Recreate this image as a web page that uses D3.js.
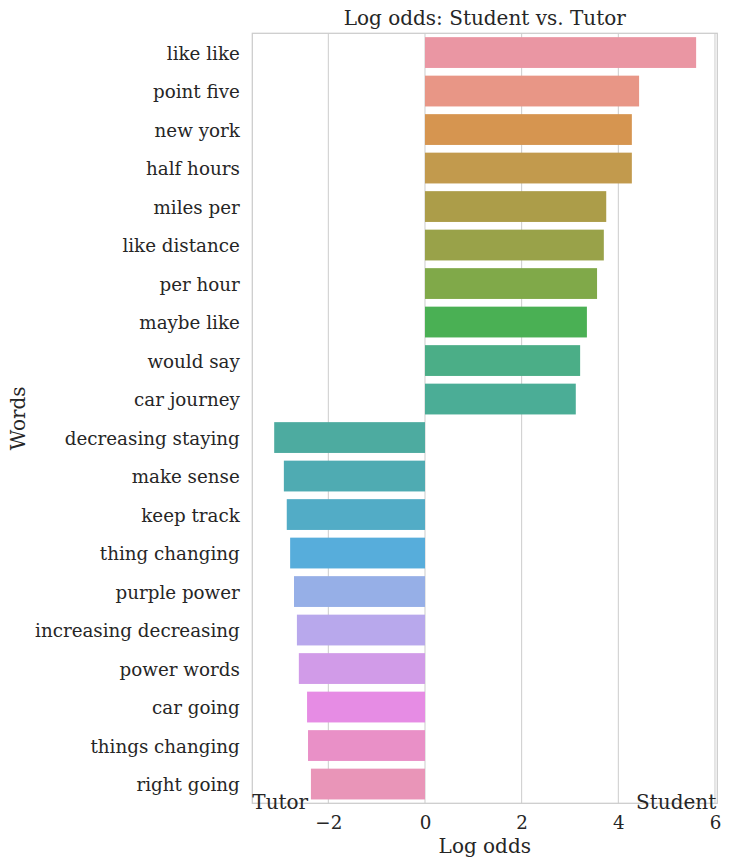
<!DOCTYPE html>
<html><head><meta charset="utf-8">
<script src="https://cdn.jsdelivr.net/npm/d3@7"></script>
<style>body{margin:0;background:#fff;} text{font-family:"DejaVu Serif",serif;fill:#262626;}</style>
</head><body><svg id="c" width="730" height="867"></svg>
<script>
const words = ["like like","point five","new york","half hours","miles per","like distance","per hour","maybe like","would say","car journey","decreasing staying","make sense","keep track","thing changing","purple power","increasing decreasing","power words","car going","things changing","right going"];
const logOdds = [5.61,4.43,4.28,4.28,3.75,3.70,3.56,3.35,3.21,3.12,-3.12,-2.92,-2.86,-2.79,-2.71,-2.65,-2.61,-2.44,-2.42,-2.36];
const colors = ["#EA96A3","#E89686","#D69550","#C29A4D","#AC9D49","#99A249","#80A949","#4AB054","#4BAE87","#4BAD96","#4DABA0","#4FABB2","#52ACC6","#57ADDB","#96AFE7","#B8A8EC","#D19BE8","#E68CE4","#E990C7","#E995B8"];
const xTicks = [-2,0,2,4,6];

const svg = d3.select("#c");
const L=252.3, R=717.3, T=33.3, B=803.3;
const FT=18.3, FL=20;
const x = d3.scaleLinear().domain([-3.573,6.048]).range([L,R]);
const y = d3.scaleBand().domain(words).range([T,B]).paddingInner(0.2).paddingOuter(0.1);

// grid
svg.append("g").selectAll("line").data(xTicks).join("line")
  .attr("x1",d=>x(d)).attr("x2",d=>x(d)).attr("y1",T).attr("y2",B)
  .attr("stroke","#cccccc").attr("stroke-width",1);

// bars
svg.append("g").selectAll("rect").data(words).join("rect")
  .attr("x",(d,i)=>x(Math.min(0,logOdds[i])))
  .attr("width",(d,i)=>Math.abs(x(logOdds[i])-x(0)))
  .attr("y",d=>y(d)).attr("height",y.bandwidth())
  .attr("fill",(d,i)=>colors[i]);

// frame
svg.append("rect").attr("x",L).attr("y",T).attr("width",R-L).attr("height",B-T)
  .attr("fill","none").attr("stroke","#cccccc").attr("stroke-width",1.25);

// x axis
const xa = svg.append("g").attr("transform",`translate(0,${B})`)
  .call(d3.axisBottom(x).tickValues(xTicks).tickSize(0).tickPadding(13).tickFormat(d=>d<0?"\u2212"+Math.abs(d):d));
xa.select(".domain").remove();
xa.selectAll("text").attr("font-size",FT).style("font-family","DejaVu Serif").attr("fill","#262626");

// y axis
const ya = svg.append("g").attr("transform",`translate(${L},0)`)
  .call(d3.axisLeft(y).tickSize(0).tickPadding(12.5));
ya.select(".domain").remove();
ya.selectAll("text").attr("font-size",FT).attr("dy","0.4em").style("font-family","DejaVu Serif").attr("fill","#262626");

// labels
svg.append("text").attr("x",(L+R)/2).attr("y",25).attr("text-anchor","middle").attr("font-size",FL).text("Log odds: Student vs. Tutor");
svg.append("text").attr("x",(L+R)/2).attr("y",853).attr("text-anchor","middle").attr("font-size",FL).text("Log odds");
svg.append("text").attr("transform",`translate(25,${(T+B)/2}) rotate(-90)`).attr("text-anchor","middle").attr("font-size",FL).text("Words");
svg.append("text").attr("x",L).attr("y",809).attr("font-size",FL).text("Tutor");
svg.append("text").attr("x",R-1).attr("y",809).attr("text-anchor","end").attr("font-size",FL).text("Student");
</script></body></html>
